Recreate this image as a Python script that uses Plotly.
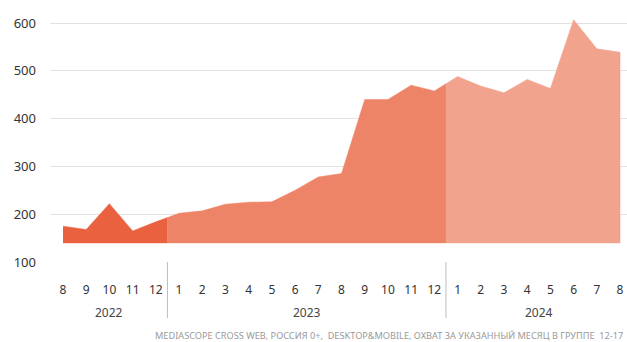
import plotly.graph_objects as go

# ---- data ----
years = ["2022", "2023", "2024"]
months_2022 = [8, 9, 10, 11, 12]
months_2023 = [1, 2, 3, 4, 5, 6, 7, 8, 9, 10, 11, 12]
months_2024 = [1, 2, 3, 4, 5, 6, 7, 8]
values_2022 = [175, 168, 222, 165, 184]
values_2023 = [202, 207, 221, 225, 226, 250, 278, 285, 440, 440, 470, 458]
values_2024 = [488, 468, 454, 482, 463, 607, 546, 539]
base_value = 140
y_ticks = [100, 200, 300, 400, 500, 600]
colors = ["#EA6140", "#EE8467", "#F2A38D"]
source_text = "MEDIASCOPE CROSS WEB, РОССИЯ 0+,  DESKTOP&MOBILE, ОХВАТ ЗА УКАЗАННЫЙ МЕСЯЦ В ГРУППЕ  12-17"

month_groups = [months_2022, months_2023, months_2024]
value_groups = [values_2022, values_2023, values_2024]

all_months = [m for g in month_groups for m in g]
all_values = [v for g in value_groups for v in g]
n = len(all_values)
xs = list(range(n))

fig = go.Figure()

start = 0
boundaries = []
for gi, vals in enumerate(value_groups):
    end = start + len(vals) - 1
    seg_x = list(range(start, end + 1))
    seg_y = list(vals)
    if start > 0:
        mid = start - 0.5
        seg_x = [mid] + seg_x
        seg_y = [(all_values[start - 1] + all_values[start]) / 2] + seg_y
    if end < n - 1:
        mid = end + 0.5
        seg_x = seg_x + [mid]
        seg_y = seg_y + [(all_values[end] + all_values[end + 1]) / 2]
        boundaries.append(mid)
    poly_x = seg_x + seg_x[::-1]
    poly_y = seg_y + [base_value] * len(seg_x)
    fig.add_trace(go.Scatter(
        x=poly_x, y=poly_y, mode="lines", fill="toself",
        fillcolor=colors[gi], line=dict(color=colors[gi], width=0.5),
        hoverinfo="skip", showlegend=False,
    ))
    fig.add_annotation(
        x=(start + end) / 2, xref="x", y=-0.202, yref="paper",
        text=years[gi], showarrow=False, yanchor="middle",
        font=dict(family="Noto Sans", size=12, color="#444444"),
    )
    start = end + 1

for b in boundaries:
    fig.add_shape(type="line", x0=b, x1=b, xref="x", y0=0, y1=-0.222, yref="paper",
                  line=dict(color="#BDBDBD", width=1))

fig.add_annotation(
    x=0.9965, xref="paper", y=-0.29, yref="paper", text=source_text,
    showarrow=False, xanchor="right", yanchor="middle",
    font=dict(family="Noto Sans", size=9.2, color="#9A9A9A"),
)

fig.update_layout(
    width=627, height=342,
    margin=dict(l=50, r=0, t=10, b=80),
    paper_bgcolor="white", plot_bgcolor="white",
    xaxis=dict(
        range=[-0.56, 24.3], tickvals=xs, ticktext=[str(m) for m in all_months],
        showgrid=False, zeroline=False, showline=False, ticks="",
        ticklabelstandoff=19,
        tickfont=dict(family="Noto Sans", size=12, color="#333333"),
        fixedrange=True,
    ),
    yaxis=dict(
        range=[100, 627.2], tickvals=y_ticks, showgrid=True,
        gridcolor="#E2E2E2", gridwidth=1, zeroline=False, showline=False,
        ticks="", ticklabelstandoff=13,
        tickfont=dict(family="Noto Sans", size=13, color="#333333"),
        fixedrange=True,
    ),
)

fig.write_html("out.html", config={"displayModeBar": False},
               post_script="document.body.style.margin='0';")
